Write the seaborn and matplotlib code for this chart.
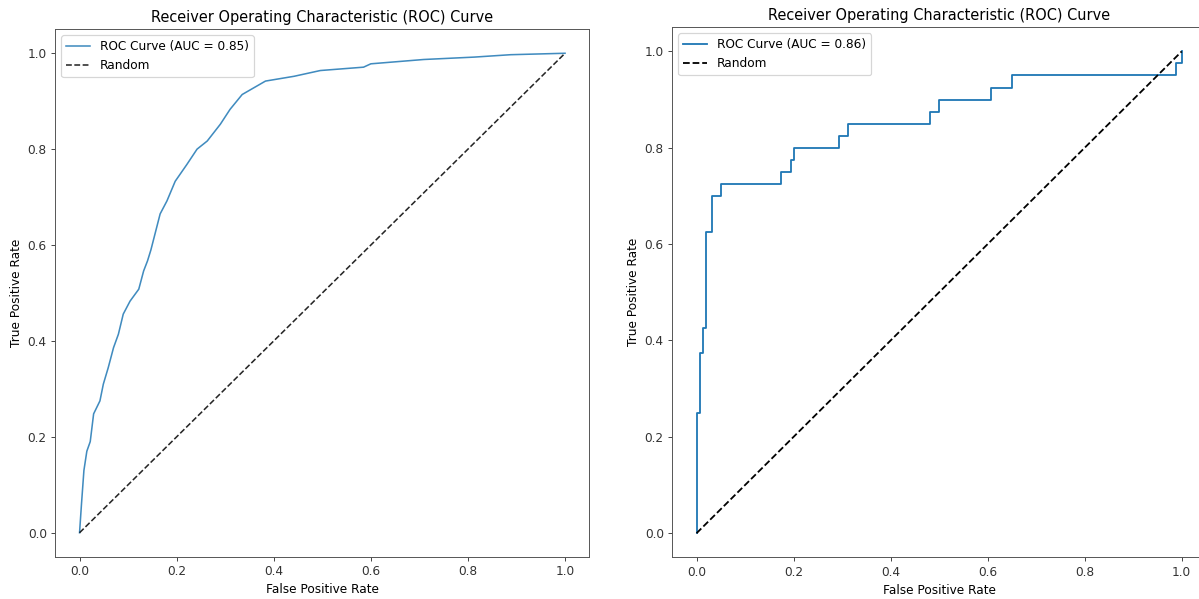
import numpy as np
import pandas as pd
import seaborn as sns
import matplotlib.pyplot as plt

# ROC points (dense curve)
fpr_left = [0.0, 0.004, 0.009, 0.015, 0.022, 0.029, 0.042, 0.049, 0.059, 0.070,
            0.080, 0.090, 0.104, 0.122, 0.132, 0.140, 0.147, 0.166, 0.180, 0.197,
            0.221, 0.242, 0.263, 0.290, 0.310, 0.335, 0.359, 0.383, 0.442, 0.496,
            0.585, 0.600, 0.709, 0.813, 0.888, 1.0]
tpr_left = [0.0, 0.060, 0.130, 0.170, 0.190, 0.248, 0.275, 0.310, 0.344, 0.386,
            0.414, 0.456, 0.483, 0.508, 0.546, 0.567, 0.590, 0.665, 0.692, 0.733,
            0.768, 0.800, 0.817, 0.852, 0.883, 0.914, 0.928, 0.942, 0.952, 0.964,
            0.971, 0.978, 0.987, 0.992, 0.997, 1.0]
auc_left = 0.85

# ROC points (step curve)
fpr_right = [0, 0, 0.00625, 0.00625, 0.0125, 0.0125, 0.01875, 0.01875, 0.03125, 0.03125,
             0.05, 0.05, 0.175, 0.175, 0.19375, 0.19375, 0.2, 0.2, 0.29375, 0.29375,
             0.3125, 0.3125, 0.48125, 0.48125, 0.5, 0.5, 0.60625, 0.60625, 0.65, 0.65,
             0.9875, 0.9875, 1.0, 1.0]
tpr_right = [0, 0.25, 0.25, 0.375, 0.375, 0.425, 0.425, 0.625, 0.625, 0.7,
             0.7, 0.725, 0.725, 0.75, 0.75, 0.775, 0.775, 0.8, 0.8, 0.825,
             0.825, 0.85, 0.85, 0.875, 0.875, 0.9, 0.9, 0.925, 0.925, 0.95,
             0.95, 0.975, 0.975, 1.0]
auc_right = 0.86

diag = [0, 1]

plt.rcParams['axes.edgecolor'] = '#555555'
plt.rcParams['xtick.color'] = '#444444'
plt.rcParams['ytick.color'] = '#444444'
plt.rcParams['xtick.labelcolor'] = '#333333'
plt.rcParams['ytick.labelcolor'] = '#333333'

DPI = 87
fig = plt.figure(figsize=(1199 / DPI, 599 / DPI), dpi=DPI)
ax1 = fig.add_axes([0.0461, 0.0706, 0.4454, 0.8805])
ax2 = fig.add_axes([0.5607, 0.0696, 0.4451, 0.8848])

panels = [
    (ax1, fpr_left, tpr_left, auc_left, 0.85, 1.3),
    (ax2, fpr_right, tpr_right, auc_right, 1.0, 1.5),
]
for ax, fpr, tpr, auc, alpha, lw in panels:
    df = pd.DataFrame({"fpr": fpr, "tpr": tpr})
    sns.lineplot(data=df, x="fpr", y="tpr", ax=ax, estimator=None, sort=False,
                 color="#1f77b4", alpha=alpha, linewidth=lw,
                 label=f"ROC Curve (AUC = {auc:.2f})")
    sns.lineplot(x=diag, y=diag, ax=ax, estimator=None, sort=False,
                 color="black", alpha=alpha, linestyle="--", linewidth=lw,
                 label="Random")
    ax.set_xlabel("False Positive Rate")
    ax.set_ylabel("True Positive Rate")
    ax.set_title("Receiver Operating Characteristic (ROC) Curve")
    ax.legend(loc="upper left")

fig.savefig("out.png", dpi=DPI)
